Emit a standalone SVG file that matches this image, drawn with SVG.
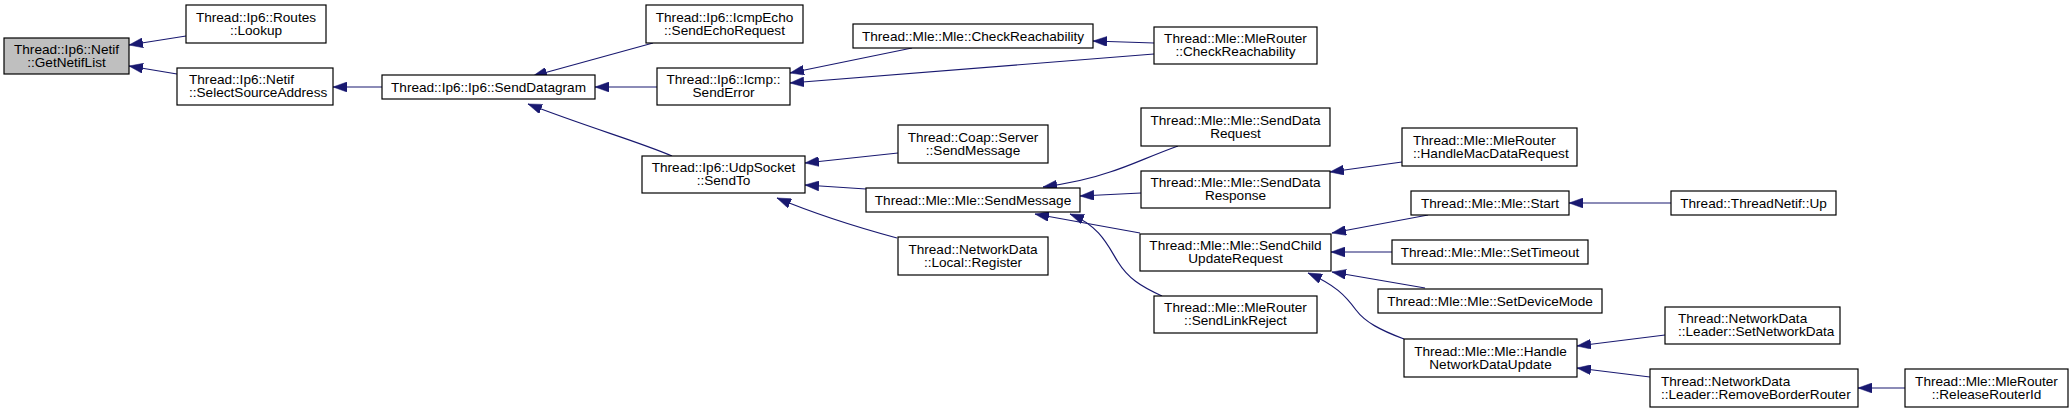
<svg xmlns="http://www.w3.org/2000/svg" width="2072" height="413" viewBox="0 0 2072 413">
<style>
.node rect{fill:#fff;stroke:#000;stroke-width:1.2}
.node.hl rect{fill:#bfbfbf}
text{font-family:"Liberation Sans",Arial,Helvetica,sans-serif;font-size:13.6px;fill:#000}
.m{text-anchor:middle}
.edges path{fill:none;stroke:#191970;stroke-width:1.2;marker-end:url(#ah)}
</style>
<defs>
<marker id="ah" viewBox="0 0 14 10" refX="14" refY="5" markerWidth="14" markerHeight="10" markerUnits="userSpaceOnUse" orient="auto">
<path d="M0,0 L14,5 L0,10 z" fill="#191970" stroke="#191970" stroke-width="0.5"/>
</marker>
</defs>
<rect width="2072" height="413" fill="#fff"/>
<g class="edges">
<path d="M186,36 L129,45"/>
<path d="M177,74 L129,66"/>
<path d="M382,87 L333,87"/>
<path d="M653,43 L533,76"/>
<path d="M657,87 L595,87"/>
<path d="M672,156 C640,142 590,128 528,104"/>
<path d="M912,48 L790,73"/>
<path d="M1154,43 L1093,41"/>
<path d="M1154,54 L790,83"/>
<path d="M898,153 L805,163"/>
<path d="M866,189 L805,185"/>
<path d="M897,238 C860,228 820,216 777,198"/>
<path d="M1178,146 C1150,156 1130,166 1110,172 C1090,179 1065,184 1043,187"/>
<path d="M1141,193 L1080,196"/>
<path d="M1140,233 L1035,214"/>
<path d="M1162,296 C1140,286 1128,278 1118,262 C1108,246 1100,226 1070,214"/>
<path d="M1402,162 L1330,172"/>
<path d="M1428,215 L1332,233"/>
<path d="M1392,252 L1331,252"/>
<path d="M1425,288 L1332,272"/>
<path d="M1404,339 C1380,330 1365,322 1356,310 C1345,295 1335,285 1308,273"/>
<path d="M1671,203 L1569,203"/>
<path d="M1665,335 L1577,346"/>
<path d="M1650,377 L1577,368"/>
<path d="M1905,388 L1858,388"/>
</g>
<g id="n_getnetiflist" class="node hl"><rect x="4" y="38" width="125" height="36"/><text class="m"><tspan x="66.5" y="53.5">Thread::Ip6::Netif</tspan><tspan x="66.5" y="66.5">::GetNetifList</tspan></text></g>
<g id="n_routes_lookup" class="node"><rect x="186" y="5" width="140" height="38"/><text class="m"><tspan x="256" y="21.5">Thread::Ip6::Routes</tspan><tspan x="256" y="34.5">::Lookup</tspan></text></g>
<g id="n_selectsourceaddress" class="node"><rect x="177" y="68" width="156" height="37"/><text><tspan x="189" y="84">Thread::Ip6::Netif</tspan><tspan x="189" y="97">::SelectSourceAddress</tspan></text></g>
<g id="n_senddatagram" class="node"><rect x="382" y="75" width="213" height="24"/><text class="m" x="488.5" y="91.5">Thread::Ip6::Ip6::SendDatagram</text></g>
<g id="n_sendechorequest" class="node"><rect x="646" y="5" width="157" height="38"/><text class="m"><tspan x="724.5" y="21.5">Thread::Ip6::IcmpEcho</tspan><tspan x="724.5" y="34.5">::SendEchoRequest</tspan></text></g>
<g id="n_senderror" class="node"><rect x="657" y="68" width="133" height="37"/><text class="m"><tspan x="723.5" y="84">Thread::Ip6::Icmp::</tspan><tspan x="723.5" y="97">SendError</tspan></text></g>
<g id="n_mle_checkreachability" class="node"><rect x="853" y="24" width="240" height="24"/><text class="m" x="973" y="40.5">Thread::Mle::Mle::CheckReachability</text></g>
<g id="n_mlerouter_checkreachability" class="node"><rect x="1154" y="27" width="163" height="37"/><text class="m"><tspan x="1235.5" y="43">Thread::Mle::MleRouter</tspan><tspan x="1235.5" y="56">::CheckReachability</tspan></text></g>
<g id="n_udpsocket_sendto" class="node"><rect x="642" y="156" width="163" height="37"/><text class="m"><tspan x="723.5" y="172">Thread::Ip6::UdpSocket</tspan><tspan x="723.5" y="185">::SendTo</tspan></text></g>
<g id="n_coap_sendmessage" class="node"><rect x="898" y="125" width="150" height="38"/><text class="m"><tspan x="973" y="141.5">Thread::Coap::Server</tspan><tspan x="973" y="154.5">::SendMessage</tspan></text></g>
<g id="n_mle_sendmessage" class="node"><rect x="866" y="188" width="214" height="24"/><text class="m" x="973" y="204.5">Thread::Mle::Mle::SendMessage</text></g>
<g id="n_local_register" class="node"><rect x="898" y="237" width="150" height="38"/><text class="m"><tspan x="973" y="253.5">Thread::NetworkData</tspan><tspan x="973" y="266.5">::Local::Register</tspan></text></g>
<g id="n_senddatarequest" class="node"><rect x="1141" y="108" width="189" height="38"/><text class="m"><tspan x="1235.5" y="124.5">Thread::Mle::Mle::SendData</tspan><tspan x="1235.5" y="137.5">Request</tspan></text></g>
<g id="n_senddataresponse" class="node"><rect x="1141" y="171" width="189" height="37"/><text class="m"><tspan x="1235.5" y="187">Thread::Mle::Mle::SendData</tspan><tspan x="1235.5" y="200">Response</tspan></text></g>
<g id="n_sendchildupdaterequest" class="node"><rect x="1140" y="234" width="191" height="37"/><text class="m"><tspan x="1235.5" y="250">Thread::Mle::Mle::SendChild</tspan><tspan x="1235.5" y="263">UpdateRequest</tspan></text></g>
<g id="n_sendlinkreject" class="node"><rect x="1154" y="296" width="163" height="37"/><text class="m"><tspan x="1235.5" y="312">Thread::Mle::MleRouter</tspan><tspan x="1235.5" y="325">::SendLinkReject</tspan></text></g>
<g id="n_handlemacdatarequest" class="node"><rect x="1402" y="128" width="175" height="38"/><text><tspan x="1413" y="144.5">Thread::Mle::MleRouter</tspan><tspan x="1413" y="157.5">::HandleMacDataRequest</tspan></text></g>
<g id="n_mle_start" class="node"><rect x="1411" y="191" width="158" height="24"/><text class="m" x="1490" y="207.5">Thread::Mle::Mle::Start</text></g>
<g id="n_settimeout" class="node"><rect x="1392" y="240" width="196" height="24"/><text class="m" x="1490" y="256.5">Thread::Mle::Mle::SetTimeout</text></g>
<g id="n_setdevicemode" class="node"><rect x="1378" y="289" width="224" height="24"/><text class="m" x="1490" y="305.5">Thread::Mle::Mle::SetDeviceMode</text></g>
<g id="n_handlenetworkdataupdate" class="node"><rect x="1404" y="339" width="173" height="38"/><text class="m"><tspan x="1490.5" y="355.5">Thread::Mle::Mle::Handle</tspan><tspan x="1490.5" y="368.5">NetworkDataUpdate</tspan></text></g>
<g id="n_threadnetif_up" class="node"><rect x="1671" y="191" width="165" height="24"/><text class="m" x="1753.5" y="207.5">Thread::ThreadNetif::Up</text></g>
<g id="n_setnetworkdata" class="node"><rect x="1665" y="307" width="175" height="37"/><text><tspan x="1678" y="323">Thread::NetworkData</tspan><tspan x="1678" y="336">::Leader::SetNetworkData</tspan></text></g>
<g id="n_removeborderrouter" class="node"><rect x="1650" y="369" width="208" height="38"/><text><tspan x="1661" y="385.5">Thread::NetworkData</tspan><tspan x="1661" y="398.5">::Leader::RemoveBorderRouter</tspan></text></g>
<g id="n_releaserouterid" class="node"><rect x="1905" y="369" width="163" height="38"/><text class="m"><tspan x="1986.5" y="385.5">Thread::Mle::MleRouter</tspan><tspan x="1986.5" y="398.5">::ReleaseRouterId</tspan></text></g>
</svg>
